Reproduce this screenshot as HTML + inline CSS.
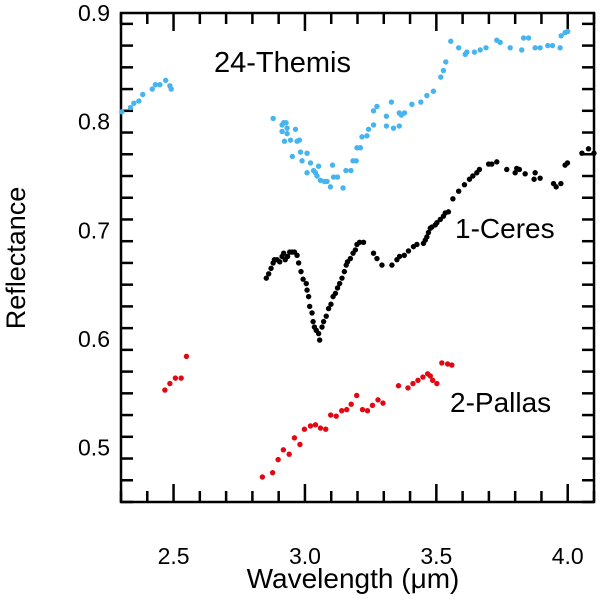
<!DOCTYPE html>
<html><head><meta charset="utf-8">
<style>
html,body{margin:0;padding:0;background:#fff;}
svg{display:block;font-family:"Liberation Sans",sans-serif;}
.tl{font-size:23px;}
</style></head>
<body>
<svg id="chart" width="600" height="600" viewBox="0 0 600 600" xmlns="http://www.w3.org/2000/svg"></svg>
<script>
const xTicks = [2.5, 3.0, 3.5, 4.0];
const xTickLabels = ["2.5", "3.0", "3.5", "4.0"];
const yTicks = [0.5, 0.6, 0.7, 0.8, 0.9];
const yTickLabels = ["0.5", "0.6", "0.7", "0.8", "0.9"];

const themisX = [2.303,2.336,2.349,2.368,2.383,2.419,2.431,2.448,2.470,2.486,2.491,
2.879,2.913,2.913,2.919,2.928,2.932,2.932,2.922,2.945,2.964,2.970,2.979,2.952,2.983,2.989,3.008,3.008,3.021,3.033,3.040,3.052,3.046,3.059,3.074,3.084,3.097,3.105,3.109,3.124,3.145,3.156,3.175,3.183,3.195,3.198,3.211,3.217,3.236,3.242,3.261,3.261,3.274,3.310,3.310,3.329,3.337,3.359,3.359,3.367,3.379,3.407,3.441,3.464,3.489,3.517,3.527,3.536,3.555,3.585,3.610,3.616,3.645,3.667,3.689,3.730,3.743,3.781,3.825,3.832,3.851,3.876,3.895,3.924,3.942,3.971,3.975,3.990,4.000];
const themisY = [0.809,0.813,0.817,0.819,0.825,0.830,0.834,0.834,0.838,0.833,0.830,
0.803,0.797,0.791,0.799,0.799,0.794,0.789,0.782,0.783,0.793,0.782,0.783,0.768,0.772,0.764,0.771,0.753,0.762,0.755,0.753,0.759,0.750,0.746,0.745,0.745,0.740,0.760,0.749,0.749,0.739,0.755,0.755,0.764,0.764,0.776,0.776,0.786,0.787,0.793,0.797,0.810,0.814,0.805,0.796,0.818,0.794,0.808,0.796,0.806,0.808,0.816,0.818,0.824,0.828,0.841,0.847,0.855,0.874,0.868,0.862,0.864,0.864,0.866,0.868,0.875,0.873,0.868,0.866,0.877,0.877,0.868,0.868,0.870,0.870,0.868,0.879,0.882,0.883];

const ceresX = [2.853,2.862,2.871,2.879,2.884,2.894,2.904,2.913,2.919,2.925,2.934,2.942,2.951,2.960,2.970,2.976,2.985,2.993,3.005,3.008,3.014,3.018,3.027,3.031,3.036,3.043,3.052,3.056,3.065,3.071,3.081,3.090,3.099,3.107,3.116,3.124,3.132,3.141,3.150,3.157,3.162,3.173,3.183,3.192,3.198,3.208,3.223,3.261,3.274,3.293,3.331,3.350,3.360,3.378,3.394,3.413,3.426,3.451,3.458,3.464,3.470,3.477,3.483,3.496,3.502,3.515,3.527,3.534,3.546,3.563,3.585,3.607,3.626,3.639,3.654,3.664,3.699,3.711,3.730,3.768,3.800,3.806,3.816,3.838,3.876,3.872,3.895,3.946,3.956,3.974,3.990,3.999,4.054,4.079,4.100];
const ceresY = [0.656,0.660,0.665,0.670,0.673,0.673,0.671,0.676,0.679,0.673,0.676,0.680,0.680,0.680,0.677,0.670,0.662,0.655,0.651,0.645,0.639,0.630,0.624,0.616,0.611,0.608,0.605,0.599,0.611,0.616,0.621,0.628,0.632,0.639,0.642,0.647,0.651,0.656,0.662,0.668,0.671,0.674,0.679,0.682,0.687,0.689,0.689,0.679,0.674,0.668,0.668,0.673,0.676,0.677,0.681,0.685,0.687,0.688,0.691,0.694,0.698,0.702,0.703,0.705,0.707,0.710,0.713,0.716,0.717,0.729,0.736,0.742,0.747,0.750,0.753,0.756,0.761,0.761,0.763,0.756,0.753,0.757,0.756,0.752,0.753,0.747,0.748,0.743,0.740,0.743,0.760,0.762,0.771,0.775,0.771];

const pallasX = [2.467,2.486,2.507,2.529,2.549,
2.838,2.877,2.898,2.918,2.940,2.960,2.981,2.998,3.021,3.040,3.059,3.079,3.098,3.119,3.140,3.159,3.176,3.197,3.219,3.238,3.257,3.278,3.297,3.356,3.392,3.411,3.430,3.449,3.467,3.477,3.486,3.502,3.521,3.543,3.559];
const pallasY = [0.553,0.559,0.564,0.564,0.584,
0.473,0.477,0.489,0.498,0.494,0.509,0.503,0.517,0.520,0.521,0.518,0.517,0.530,0.529,0.534,0.535,0.540,0.548,0.535,0.534,0.539,0.544,0.541,0.557,0.555,0.559,0.562,0.565,0.568,0.566,0.562,0.559,0.578,0.577,0.576];

const L = 121, R = 594, T = 13, B = 502;
const xMin = 2.3, xMax = 4.1, yMin = 0.45, yMax = 0.9;
const sx = v => L + (v - xMin) / (xMax - xMin) * (R - L);
const sy = v => B - (v - yMin) / (yMax - yMin) * (B - T);
const NS = "http://www.w3.org/2000/svg";
const svg = document.getElementById('chart');
function mk(tag, attrs, parent) {
  const e = document.createElementNS(NS, tag);
  for (const k in attrs) e.setAttribute(k, attrs[k]);
  (parent || svg).appendChild(e);
  return e;
}

const tickG = mk('g', {stroke: '#000', 'stroke-width': 2.5});


for (let i = 0; i <= 18; i++) {
  const v = xMin + i * 0.1;
  const major = Math.abs(v * 2 - Math.round(v * 2)) < 1e-6;
  const len = major ? 18 : 11;
  const x = sx(v);
  mk('line', {x1: x, y1: B, x2: x, y2: B - len}, tickG);
  mk('line', {x1: x, y1: T, x2: x, y2: T + len}, tickG);
}
for (let i = 0; i <= 22; i++) {
  const v = yMin + i * 0.02;
  const major = Math.abs(v * 10 - Math.round(v * 10)) < 1e-6;
  const len = major ? 18 : 12;
  const y = sy(v);
  mk('line', {x1: L, y1: y, x2: L + len, y2: y}, tickG);
  mk('line', {x1: R, y1: y, x2: R - len, y2: y}, tickG);
}
const frame = mk('rect', {x: L, y: T, width: R - L, height: B - T, fill: 'none', stroke: '#000', 'stroke-width': 2.5});



xTicks.forEach((v, i) => {
  const t = mk('text', {x: sx(v), y: 564, 'text-anchor': 'middle', 'class': 'tl'});
  
  
  t.textContent = xTickLabels[i];
});
yTicks.forEach((v, i) => {
  const t = mk('text', {x: 110, y: sy(v) + 8, 'text-anchor': 'end', 'class': 'tl'});
  
  
  t.textContent = yTickLabels[i];
});

function series(xs, ys, color, name) {
  const g = mk('g', {fill: color});
  
  
  xs.forEach((x, i) => {
    const c = mk('circle', {cx: sx(x), cy: sy(ys[i]), r: 2.7}, g);
    
    
  });
}
series(themisX, themisY, '#45b4ef', 'themis-series');
series(ceresX, ceresY, '#000000', 'ceres-series');
series(pallasX, pallasY, '#e30613', 'pallas-series');
</script>
<svg style="position:absolute;left:0;top:0" width="600" height="600">
  <text x="214" y="72" font-size="29" font-family="Liberation Sans, sans-serif">24-Themis</text>
  <text x="455" y="238" font-size="28" font-family="Liberation Sans, sans-serif">1-Ceres</text>
  <text x="450" y="412" font-size="28" font-family="Liberation Sans, sans-serif">2-Pallas</text>
  <text x="353" y="588" text-anchor="middle" font-size="28" font-family="Liberation Sans, sans-serif">Wavelength (μm)</text>
  <text transform="translate(25,258) rotate(-90)" text-anchor="middle" font-size="27" font-family="Liberation Sans, sans-serif">Reflectance</text>
</svg>
</body></html>
